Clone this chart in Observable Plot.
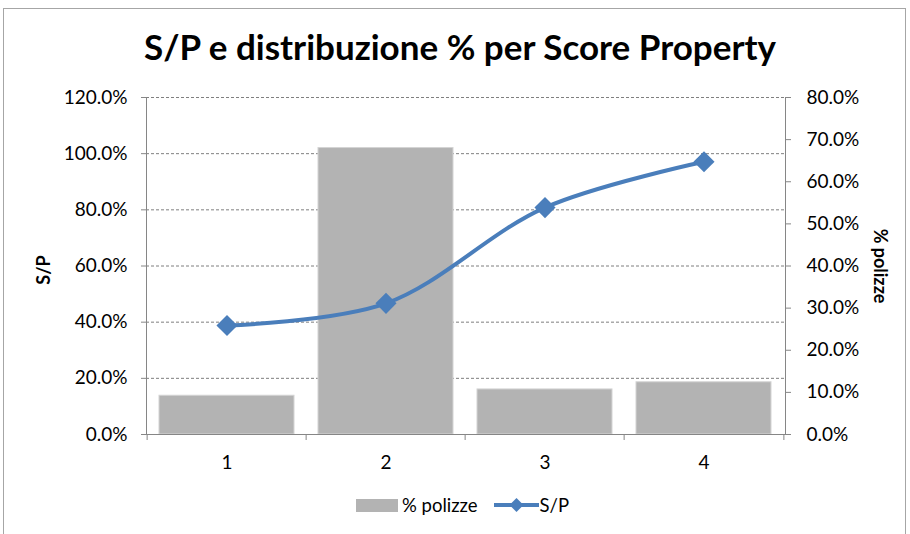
<!DOCTYPE html>
<html>
<head>
<meta charset="utf-8">
<script src="https://cdn.jsdelivr.net/npm/d3@7"></script>
<script src="https://cdn.jsdelivr.net/npm/@observablehq/plot@0.6"></script>
<style>
  html, body { margin: 0; padding: 0; background: #fff; }
  #wrap { position: relative; width: 910px; height: 534px; overflow: hidden; font-family: Lato, "Open Sans", sans-serif; color: #000; }
  #border { position: absolute; left: 3px; top: 8px; width: 903px; height: 600px; border: 1px solid #a6a6a6; box-sizing: border-box; }
  #chart { position: absolute; left: 0; top: 0; }
  #title { position: absolute; left: 0; width: 920px; top: 25px; text-align: center; font-weight: 700; font-size: 35px; white-space: nowrap; }
  .ylab { position: absolute; font-weight: 700; font-size: 18px; white-space: nowrap; }
  #ylabL { left: 43px; top: 270px; transform: translate(-50%, -50%) rotate(-90deg); }
  #ylabR { left: 881px; top: 266px; transform: translate(-50%, -50%) rotate(90deg); }
  #legend { position: absolute; top: 494px; left: 356px; display: flex; align-items: center; font-size: 18.5px; }
  .sw-bar { width: 42px; height: 13px; background: #b3b3b3; margin-right: 4px; }
  .sw-line { margin-left: 16px; margin-right: 1px; }
</style>
</head>
<body>
<div id="wrap">
  <div id="border"></div>
  <div id="chart"></div>
  <div id="title">S/P e distribuzione % per Score Property</div>
  <div class="ylab" id="ylabL">S/P</div>
  <div class="ylab" id="ylabR">% polizze</div>
  <div id="legend">
    <div class="sw-bar"></div><span>% polizze</span>
    <svg class="sw-line" width="45" height="16"><line x1="0" y1="8" x2="45" y2="8" stroke="#4a7ebb" stroke-width="4"/><path d="M22.5,1 L29.5,8 L22.5,15 L15.5,8 Z" fill="#4a7ebb"/></svg><span>S/P</span>
  </div>
</div>
<script>
const categories = ["1", "2", "3", "4"];
const polizze = [0.092, 0.680, 0.107, 0.124];   // right axis (% polizze)
const sp = [0.388, 0.467, 0.808, 0.971];        // left axis (S/P)
const leftTicks = [0, 0.2, 0.4, 0.6, 0.8, 1.0, 1.2];
const rightTicks = [0, 0.1, 0.2, 0.3, 0.4, 0.5, 0.6, 0.7, 0.8];

const leftMax = 1.2, rightMax = 0.8;
const k = leftMax / rightMax;
const rows = categories.map((c, i) => ({cat: c, polizze: polizze[i], sp: sp[i]}));

const W = 910, H = 534, mL = 146, mR = 125, mT = 97, mB = 100;
const step = (W - mL - mR) / categories.length;
const fmt = d3.format(".1%");
const axisColor = "#868686";
const fs = 19;

const chart = Plot.plot({
  width: W, height: H,
  marginLeft: mL, marginRight: mR, marginTop: mT, marginBottom: mB,
  style: {fontFamily: "Lato, 'Open Sans', sans-serif", fontSize: fs + "px", color: "#000", background: "transparent"},
  x: {type: "band", domain: categories, paddingInner: 0.15, paddingOuter: 0.075, label: null},
  y: {domain: [0, leftMax], label: null},
  marks: [
    Plot.gridY(leftTicks.filter(d => d > 0), {stroke: "#7f7f7f", strokeOpacity: 1, strokeDasharray: "3,2"}),
    Plot.barY(rows, {x: "cat", y: d => d.polizze * k, fill: "#b3b3b3", stroke: "#d4d4d4", strokeWidth: 1}),
    Plot.ruleY([0], {stroke: axisColor}),
    Plot.frame({anchor: "left", stroke: axisColor}),
    Plot.frame({anchor: "right", stroke: axisColor}),
    Plot.axisY(leftTicks, {anchor: "left", tickFormat: fmt, tickSize: 5, tickPadding: 14, stroke: axisColor, fill: "#000", fontSize: fs, label: null}),
    Plot.axisY(rightTicks.map(d => d * k), {anchor: "right", tickFormat: d => fmt(d / k), tickSize: 5, tickPadding: 16, stroke: axisColor, fill: "#000", fontSize: fs, label: null}),
    Plot.axisX({tickSize: 0, tickPadding: 21, fill: "#000", fontSize: fs, label: null}),
    Plot.axisX(categories, {tickSize: 6, tickFormat: () => "", dx: -step / 2, stroke: axisColor, label: null}),
    Plot.axisX(categories.slice(-1), {tickSize: 6, tickFormat: () => "", dx: step / 2, stroke: axisColor, label: null}),
    Plot.line(rows, {x: "cat", y: "sp", stroke: "#4a7ebb", strokeWidth: 4, curve: "catmull-rom"}),
    Plot.dot(rows, {x: "cat", y: "sp", symbol: "diamond2", r: 9.5, fill: "#4a7ebb", stroke: "none"})
  ]
});
document.getElementById("chart").appendChild(chart);
</script>
</body>
</html>
